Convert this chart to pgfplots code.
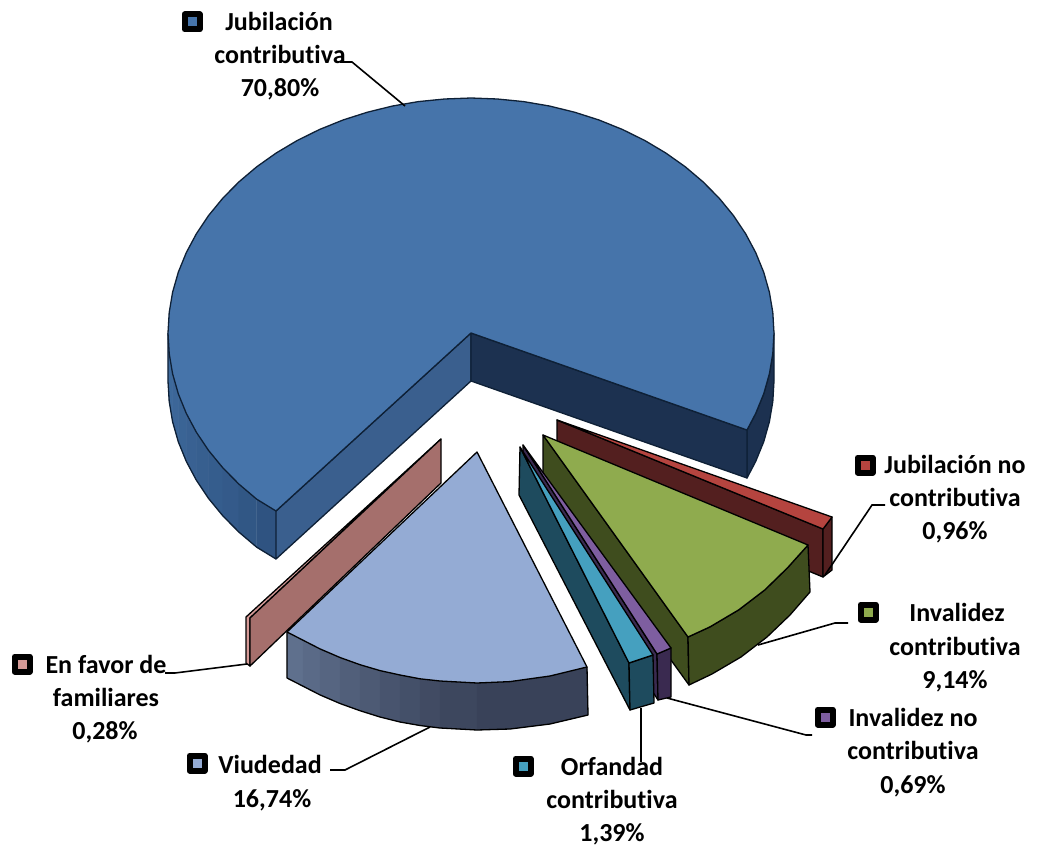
\documentclass[border=0pt]{standalone}
\usepackage{pgfplots}
\pgfplotsset{compat=1.18}
\usepackage{fontspec}
\setmainfont{Carlito}[Ligatures={NoCommon}]
\definecolor{bT}{HTML}{4674AA}
\definecolor{bO}{HTML}{0E2036}
\definecolor{bC}{HTML}{3A5F8E}
\definecolor{bD}{HTML}{1C3150}
\definecolor{bA}{HTML}{3F6B9E}
\definecolor{bB}{HTML}{2F5381}
\definecolor{rT}{HTML}{B5443F}
\definecolor{rD}{HTML}{531F1F}
\definecolor{gT}{HTML}{8FAB4E}
\definecolor{gD}{HTML}{3F4D1E}
\definecolor{pT}{HTML}{7E5EA0}
\definecolor{pD}{HTML}{3A2A50}
\definecolor{cT}{HTML}{45A0BF}
\definecolor{cD}{HTML}{1E4B5E}
\definecolor{vT}{HTML}{94ABD4}
\definecolor{vA}{HTML}{5F708D}
\definecolor{vB}{HTML}{394259}
\definecolor{kT}{HTML}{A56F6C}
\definecolor{kU}{HTML}{D59A97}
\newcommand\face[2]{\addplot[fill=#1,draw=black,line width=1.3pt,line join=round,forget plot] coordinates {#2} --cycle;}
\newcommand\blueface[2]{\addplot[fill=#1,draw=bO,line width=1.3pt,line join=round,forget plot] coordinates {#2} --cycle;}
\newcommand\seg[2]{\addplot[fill=#1,draw=#1,line width=0.4pt,forget plot] coordinates {#2} --cycle;}
\newcommand\edge[1]{\addplot[draw=black,line width=1.3pt,line join=round,forget plot] coordinates {#1};}
\newcommand\leader[1]{\addplot[draw=black,line width=1.6pt,line join=miter,forget plot] coordinates {#1};}
\newcommand\key[3]{\addplot[fill=#1,draw=black,line width=6pt,line join=round,forget plot] coordinates {#2 #3} --cycle;}
\newcommand\lab[3]{\node[anchor=base,font=\fontsize{26}{30}\selectfont\bfseries,inner sep=0pt] at (axis cs:#1,#2) {#3};}
\begin{document}
\begin{tikzpicture}
\begin{axis}[scale only axis,width=1037pt,height=848pt,xmin=0,xmax=1037,ymin=0,ymax=848,y dir=reverse,hide axis,clip=false,no markers]
% main slice: walls
\seg{bA!100!bB}{(168,333)(169.2,353.5)(169.2,401.5)(168,381)}
\seg{bA!90!bB}{(169.2,353.5)(172.6,373.8)(172.6,421.8)(169.2,401.5)}
\seg{bA!80!bB}{(172.6,373.8)(178.3,393.8)(178.3,441.8)(172.6,421.8)}
\seg{bA!70!bB}{(178.3,393.8)(186.3,413.4)(186.3,461.4)(178.3,441.8)}
\seg{bA!60!bB}{(186.3,413.4)(196.4,432.3)(196.4,480.3)(186.3,461.4)}
\seg{bA!50!bB}{(196.4,432.3)(208.6,450.5)(208.6,498.5)(196.4,480.3)}
\seg{bA!40!bB}{(208.6,450.5)(222.8,467.8)(222.8,515.8)(208.6,498.5)}
\seg{bA!30!bB}{(222.8,467.8)(238.9,484.1)(238.9,532.1)(222.8,515.8)}
\seg{bA!15!bB}{(238.9,484.1)(256.7,499.2)(256.7,547.2)(238.9,532.1)}
\seg{bB}{(256.7,499.2)(276,511)(276,559)(256.7,547.2)}
\addplot[draw=bO,line width=1.3pt,line join=round,forget plot] coordinates {(168,333)(168,381)(169.2,401.5)(172.6,421.8)(178.3,441.8)(186.3,461.4)(196.4,480.3)(208.6,498.5)(222.8,515.8)(238.9,532.1)(256.7,547.2)(276,559)};
\blueface{bD}{(774,333)(772.8,353.5)(769.4,373.8)(763.7,393.8)(755.7,413.4)(747,430)(747,478)(755.7,461.4)(763.7,441.8)(769.4,421.8)(772.8,401.5)(774,381)}
\blueface{bC}{(276,511)(471,333)(471,381)(276,559)}
\blueface{bD}{(471,333)(747,430)(747,478)(471,381)}
\blueface{bT}{(471,333)(747,430)(755.7,413.4)(763.7,393.8)(769.4,373.8)(772.8,353.5)(774,333)(772.8,312.5)(769.4,292.2)(763.7,272.2)(755.7,252.6)(745.6,233.7)(733.4,215.5)(719.2,198.2)(703.1,181.9)(685.3,166.8)(665.8,153)(644.8,140.5)(622.5,129.5)(599,120)(574.6,112.2)(549.4,106)(523.6,101.6)(497.4,99)(471,98)(444.6,99)(418.4,101.6)(392.6,106)(367.4,112.2)(343,120)(319.5,129.5)(297.2,140.5)(276.2,153)(256.7,166.8)(238.9,181.9)(222.8,198.2)(208.6,215.5)(196.4,233.7)(186.3,252.6)(178.3,272.2)(172.6,292.2)(169.2,312.5)(168,333)(169.2,353.5)(172.6,373.8)(178.3,393.8)(186.3,413.4)(196.4,432.3)(208.6,450.5)(222.8,467.8)(238.9,484.1)(256.7,499.2)(276,511)}
% red slice
\face{rD}{(557,420)(823,529)(823,577)(557,468)}
\face{rD}{(823,529)(832,517)(832,570)(823,577)}
\face{rT}{(557,420)(832,517)(823,529)}
% green slice
\face{gD}{(543,435)(688,637)(689,685)(543,483)}
\face{gD}{(808,545)(787.5,567.8)(764.8,589.9)(738.8,609.8)(709.9,626.9)(688,637)(689,685)(712,674)(741,657)(767,637)(790,615)(810,592)}
\face{gT}{(543,435)(808,545)(787.5,567.8)(764.8,589.9)(738.8,609.8)(709.9,626.9)(688,637)}
% purple slice
\face{pD}{(523,445)(657,654)(658,700)(523,493)}
\face{pD}{(657,654)(671,648)(671,697)(658,700)}
\face{pT}{(523,445)(671,648)(657,654)}
% cyan slice
\face{cD}{(520,447)(629,663)(630,710)(519,495)}
\face{cD}{(629,663)(653,655)(654,703)(630,710)}
\face{cT}{(520,447)(653,655)(629,663)}
% pink slice
\face{kU}{(246,617)(441,439)(250,618)(250,666)(246,663)}
\face{kT}{(250,618)(441,439)(441,483)(250,666)}
% viudedad slice
\seg{vA}{(287,632)(303,640.2)(303,686.2)(287,678)}
\seg{vA!88!vB}{(303,640.2)(320,648.9)(320,694.9)(303,686.2)}
\seg{vA!76!vB}{(320,648.9)(340,657.5)(340,703.5)(320,694.9)}
\seg{vA!64!vB}{(340,657.5)(360,664.7)(360,710.7)(340,703.5)}
\seg{vA!52!vB}{(360,664.7)(380,670.6)(380,717)(360,710.7)}
\seg{vA!40!vB}{(380,670.6)(400,675)(400,722)(380,717)}
\seg{vA!30!vB}{(400,675)(420,678.8)(420,725.5)(400,722)}
\seg{vA!20!vB}{(420,678.8)(440,681)(440,728)(420,725.5)}
\seg{vA!10!vB}{(440,681)(477,683)(477,730)(440,728)}
\seg{vB}{(477,683)(510,681.6)(550,676)(587,667)(588,715)(550,724)(510,729)(477,730)}
\edge{(287,632)(287,678)(303,686.2)(320,694.9)(340,703.5)(360,710.7)(380,717)(400,722)(420,725.5)(440,728)(477,730)(510,729)(550,724)(588,715)(587,667)}
\face{vT}{(477,452)(587,667)(550,676)(510,681.6)(477,683)(440,681)(420,678.8)(400,675)(380,670.6)(360,664.7)(340,657.5)(320,648.9)(303,640.2)(287,632)}
% leaders
\leader{(340,62)(352,62)(405,106)}
\leader{(825,575)(872,505)(885,505)}
\leader{(758,645)(835,623)(848,623)}
\leader{(667,698)(806,735)(812,735)}
\leader{(641,708)(641,762)}
\leader{(430,727)(345,770)(330,770)}
\leader{(247,664)(175,673)(165,673)}
% keys
\key{bT}{(184.5,14.5)(199.5,14.5)}{(199.5,29.5)(184.5,29.5)}
\key{rT}{(857.5,457.5)(872.5,457.5)}{(872.5,472.5)(857.5,472.5)}
\key{gT}{(860.5,604.5)(875.5,604.5)}{(875.5,619.5)(860.5,619.5)}
\key{pT}{(817.5,709.5)(832.5,709.5)}{(832.5,724.5)(817.5,724.5)}
\key{cT}{(515.5,758.5)(530.5,758.5)}{(530.5,773.5)(515.5,773.5)}
\key{vT}{(189.5,755.5)(204.5,755.5)}{(204.5,770.5)(189.5,770.5)}
\key{kU}{(14.5,656.5)(29.5,656.5)}{(29.5,671.5)(14.5,671.5)}
% labels
\lab{279}{31}{Jubilación}
\lab{280}{64}{contributiva}
\lab{280}{97}{70,80\%}
\lab{955}{473}{Jubilación no}
\lab{955}{506}{contributiva}
\lab{955}{539}{0,96\%}
\lab{957}{621}{Invalidez}
\lab{955}{655}{contributiva}
\lab{955}{688}{9,14\%}
\lab{913}{726}{Invalidez no}
\lab{913}{759}{contributiva}
\lab{913}{793}{0,69\%}
\lab{612}{775}{Orfandad}
\lab{612}{808}{contributiva}
\lab{612}{841}{1,39\%}
\lab{270}{773}{Viudedad}
\lab{272}{807}{16,74\%}
\lab{106}{673}{En favor de}
\lab{106}{706}{familiares}
\lab{105}{739}{0,28\%}
\end{axis}
\pgfresetboundingbox
\useasboundingbox (0,0) rectangle (1037pt,848pt);
\end{tikzpicture}
\end{document}
